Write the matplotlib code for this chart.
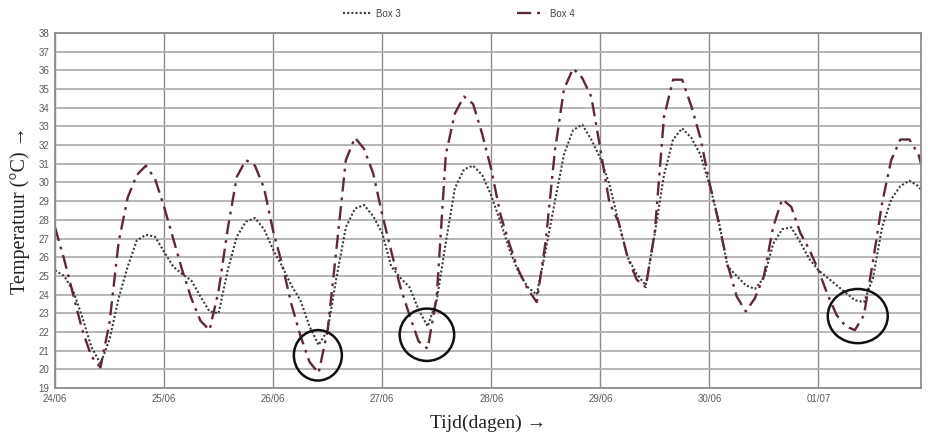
import numpy as np
import matplotlib.pyplot as plt
from matplotlib.patches import Ellipse

# tijd in dagen (elke 2 uur), laatste punt = einde van de meting
tijd = list(np.arange(96) / 12.0) + [7.94]

box3 = [25.3, 25.0, 24.2, 22.8, 21.2, 20.3, 21.6, 23.8, 25.5, 26.9, 27.2, 27.1,
        26.3, 25.5, 25.1, 24.75, 23.9, 23.1, 23.0, 25.3, 27.1, 27.9, 28.1, 27.5,
        26.4, 25.5, 24.5, 23.7, 22.3, 21.3, 22.1, 25.0, 27.6, 28.6, 28.8, 28.2,
        27.3, 25.5, 24.9, 24.4, 23.2, 22.3, 23.7, 26.8, 29.7, 30.7, 30.9, 30.4,
        29.3, 27.9, 26.4, 25.2, 24.4, 24.0, 26.4, 29.0, 31.5, 32.8, 33.1, 32.3,
        31.3, 29.9, 27.9, 26.0, 25.1, 24.5, 27.3, 30.4, 32.3, 32.9, 32.4, 31.5,
        29.9, 28.0, 25.5, 25.0, 24.5, 24.3, 24.9, 26.7, 27.5, 27.6, 26.8, 25.9,
        25.3, 24.9, 24.5, 24.1, 23.7, 23.6, 24.9, 27.6, 29.1, 29.8, 30.1, 29.8,
        29.6]

box4 = [27.6, 25.9, 24.0, 22.1, 20.7, 20.1, 22.5, 26.8, 29.2, 30.4, 30.9, 30.2,
        28.7, 27.0, 25.3, 23.8, 22.6, 22.1, 24.2, 27.5, 30.3, 31.2, 30.9, 29.7,
        27.4, 25.6, 23.5, 21.8, 20.4, 19.8, 22.1, 26.6, 31.2, 32.4, 31.8, 30.5,
        28.3, 26.3, 24.4, 22.9, 21.5, 21.1, 23.9, 31.5, 33.7, 34.6, 34.2, 32.6,
        30.7, 28.3, 26.7, 25.3, 24.3, 23.6, 26.9, 31.7, 35.0, 36.1, 35.6, 34.6,
        31.8, 28.9, 27.9, 26.0, 24.8, 24.4, 27.4, 33.5, 35.5, 35.5, 34.1, 32.4,
        30.0, 27.9, 25.6, 23.9, 23.1, 23.8, 25.0, 27.6, 29.1, 28.7, 27.3, 26.4,
        25.3, 24.0, 22.9, 22.3, 22.1, 22.9, 25.8, 28.9, 31.2, 32.3, 32.3, 31.5,
        31.0]

dagen = ["24/06", "25/06", "26/06", "27/06", "28/06", "29/06", "30/06", "01/07"]

# omcirkelde minima: (dag, temperatuur, breedte, hoogte)
cirkels = [(2.41, 20.75, 0.44, 2.7), (3.41, 21.85, 0.50, 2.8), (7.36, 22.85, 0.55, 2.9)]

fig = plt.figure(figsize=(9.29, 4.37), dpi=100)
ax = fig.add_axes([0.0592, 0.1121, 0.9322, 0.8124])

ax.plot(tijd, box3, color='#3c3c3c', linestyle=(0, (1, 1)), linewidth=1.5, label='Box 3')
ax.plot(tijd, box4, color='#5e2a33', linestyle=(0, (6, 2.5, 1.2, 2.5)), linewidth=1.7, label='Box 4')

for x, y, w, h in cirkels:
    ax.add_patch(Ellipse((x, y), w, h, fill=False, edgecolor='#111111', linewidth=1.8, zorder=5))

ax.set_xlim(0, 7.94)
ax.set_ylim(19, 38)
ax.set_yticks(range(19, 39))
ax.set_xticks(range(len(dagen)))
ax.set_xticklabels(dagen)
ax.tick_params(axis='both', labelsize=7, colors='#5a5a5a', length=0, pad=4)
for lbl in ax.get_xticklabels() + ax.get_yticklabels():
    lbl.set_family('Liberation Sans')

ax.grid(axis='y', color='#b0b0b0', linewidth=1.3)
ax.grid(axis='x', color='#8c8c8c', linewidth=1.0)
ax.set_axisbelow(True)
for s in ax.spines.values():
    s.set_color('#8c8c8c')
    s.set_linewidth(1.3)

ax.set_ylabel('Temperatuur (°C) →', family='Liberation Serif', fontsize=14.5, color='#222222', labelpad=6)
ax.set_xlabel('Tijd(dagen) →', family='Liberation Serif', fontsize=14, color='#222222', labelpad=8)

leg = fig.legend(loc='upper center', bbox_to_anchor=(0.494, 1.0), ncol=2, frameon=False,
                 fontsize=7, handlelength=3, columnspacing=12, handletextpad=0.4)
for t in leg.get_texts():
    t.set_color('#444444')
    t.set_family('Liberation Sans')

fig.savefig('out.png', dpi=100)
